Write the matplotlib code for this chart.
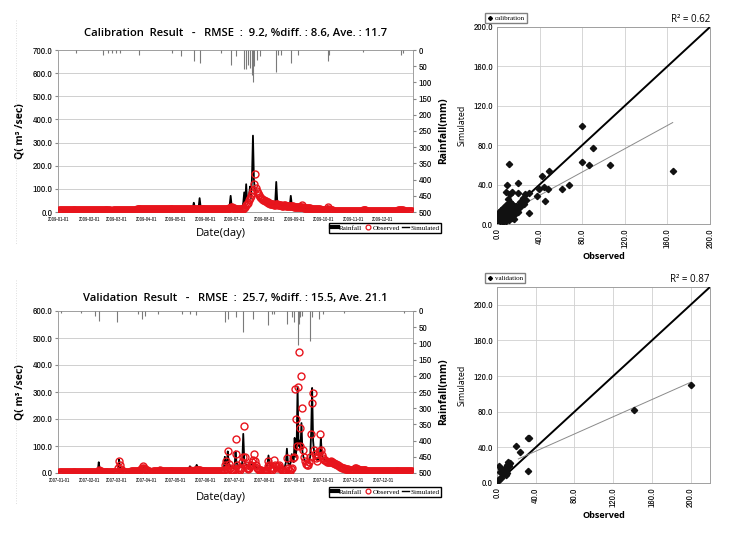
import numpy as np
import pandas as pd
import matplotlib
matplotlib.use("Agg")
import matplotlib.pyplot as plt
from matplotlib.lines import Line2D
from matplotlib import font_manager

# ---------------- DATA ----------------
cal_sim = (
    [10,10,10,10,10,9,9,9,9,9, 9,9,9,9,9,9,9,9,10,9, 9,9,9,8,8,8,8,8,8,8, 8]
    + [8,8,8,8,8,8,8,8,8,8, 8,8,8,8,9,9,9,9,9,9, 9,9,9,9,9,9,9,9]
    + [10,10,10,10,10,10,10,10,10,10, 10,10,10,10,10,10,10,10,10,10, 10,10,10,11,10,10,10,10,10,10, 10]
    + [10,10,10,10,10,10,11,11,11,11, 11,11,11,11,11,11,11,11,11,11, 11,11,11,11,11,12,12,13,12,12]
    + [12,12,12,12,12,12,13,12,12,12, 12,12,12,12,12,12,12,14,18,40, 22,16,14,14,20,60,24,18,16,15, 15]
    + [15,15,14,14,14,14,14,14,14,14, 14,14,14,14,14,14,15,15,15,15, 15,15,15,16,18,30,70,28,20,17]
    + [16,16,15,15,15,15,15,16,20,40, 85,35,120,45,60,75,110,60,150,330, 140,90,75,65,60,56,52,50,48,46, 44]
    + [42,40,38,36,35,34,33,32,32,31, 30,45,130,50,38,34,32,30,30,29, 28,28,27,26,26,25,28,70,32,26, 24]
    + [23,22,24,30,22,20,19,18,18,17, 17,16,16,16,15,15,15,14,14,14, 13,13,13,13,12,12,12,12,11,11]
    + [11,11,11,12,25,14,11,10,10,10, 9,9,9,9,9,8,8,8,8,8, 8,8,8,8,8,8,8,8,8,8, 8]
    + [8,8,8,8,8,8,8,8,8,9, 9,8,8,8,8,8,8,8,8,8, 8,8,8,8,8,8,8,8,8,8]
    + [8,8,8,8,8,8,8,8,8,8, 8,8,8,8,8,8,9,12,10,9, 9,9,8,8,8,8,8,8,8,8, 8]
)
cal_obs = (
    [8,8,8,7,7,7,7,7,7,7, 7,7,7,7,7,7,7,7,8,8, 7,7,7,7,7,7,7,7,7,7, 7]
    + [7,7,7,7,7,7,7,7,7,7, 7,7,7,7,7,8,8,8,8,8, 8,8,8,5,4,9,9,9]
    + [10,10,10,10,10,10,10,10,10,10, 10,10,10,10,10,10,10,10,10,10, 10,11,11,11,11,11,11,11,11,11, 11]
    + [11,11,11,11,11,11,11,11,11,11, 11,11,11,11,11,11,11,11,11,11, 11,11,11,11,11,12,12,12,12,12]
    + [12,12,12,12,12,12,12,12,12,12, 12,12,12,12,12,12,12,12,13,14, 14,13,13,13,14,15,15,14,14,14, 14]
    + [14,14,14,14,14,14,14,14,14,14, 14,14,14,14,14,14,14,14,14,14, 15,15,15,15,16,18,22,20,17,16]
    + [15,15,14,14,14,13,13,12,12,14, 18,22,30,35,40,50,60,70,80,95, 120,165,105,90,80,72,66,60,56,52, 50]
    + [48,46,44,42,40,38,36,35,34,33, 32,32,34,34,32,30,30,29,28,28, 30,30,28,27,26,26,25,28,26,24, 23]
    + [22,22,21,21,20,20,20,22,30,20, 19,18,18,17,17,16,16,15,15,14, 14,13,13,12,12,11,11,10,10,10]
    + [9,9,9,12,20,12,9,8,7,7, 6,6,6,6,6,5,5,5,5,5, 5,5,5,5,5,5,5,5,5,5, 5]
    + [5,5,5,5,5,5,6,6,6,7, 7,7,7,6,6,6,6,6,6,6, 6,6,6,6,6,6,6,6,6,6]
    + [6,6,6,6,6,6,6,6,6,6, 6,6,6,6,6,6,7,9,8,7, 7,7,6,6,6,6,6,6,6,6, 6]
)
cal_rain_dates = ["2009-01-19","2009-02-15","2009-02-21","2009-02-25","2009-03-01","2009-03-05",
                  "2009-03-24","2009-04-28","2009-05-07","2009-05-20","2009-05-26","2009-06-17",
                  "2009-06-27","2009-07-03","2009-07-11","2009-07-13","2009-07-15","2009-07-17",
                  "2009-07-19","2009-07-20","2009-07-21","2009-07-24","2009-07-27","2009-08-13",
                  "2009-08-15","2009-08-18","2009-08-28","2009-09-04","2009-10-05","2009-10-06",
                  "2009-11-10","2009-12-20","2009-12-22"]
cal_rain_mm = [10,15,10,8,10,8, 15,10,20,33,39,10, 46,20,60,60,45,55, 77,100,50,30,20,67,
               15,15,41,15,34,15, 5,15,8]

val_sim = (
    [5]*31
    + [5,5,5,5,5,5,5,5,5,6, 40,15,8,7,6,6,6,6,6,6, 6,6,6,6,6,6,6,6]
    + [6,6,8,50,18,10,8,8,7,7, 7,7,7,7,7,7,8,8,8,8, 8,8,8,8,8,10,12,15,20,25, 22]
    + [18,15,14,13,12,12,12,11,11,11, 11,12,12,14,20,14,12,12,11,11, 11,11,10,10,10,10,10,10,10,10]
    + [10,10,10,10,10,10,10,10,12,12, 12,13,14,15,16,25,18,17,16,16, 18,22,30,22,20,18,18,17,17,16, 16]
    + [16,16,15,15,15,15,15,15,15,15, 15,15,15,15,15,14,14,14,14,14, 60,30,25,80,35,28,24,22,20,18]
    + [17,80,40,30,28,25,24,22,40,145, 50,35,30,28,26,25,24,30,40,30, 26,24,22,20,20,20,20,20,19,19, 18]
    + [18,20,25,35,65,35,28,24,22,20, 20,20,20,18,18,18,18,18,20,20, 20,25,40,90,40,30,30,40,70,50, 40]
    + [130,60,90,320,100,120,90,185,80,60, 50,45,40,40,38,42,60,150,315,120, 80,60,55,50,55,50,60,130,70,55]
    + [50,48,46,45,44,44,45,46,44,42, 40,38,36,34,32,30,28,26,24,22, 20,19,18,17,16,15,14,14,13,13, 12]
    + [12,12,11,11,11,14,18,16,14,13, 13,12,12,12,11,11,11,11,10,10, 10,10,10,10,10,10,9,9,9,9]
    + [9,9,9,9,9,9,9,8,8,8, 8,8,8,8,8,8,8,8,8,8, 8,8,8,8,8,8,8,8,8,8, 8]
)
val_obs = (
    [4]*31
    + [4,4,4,4,4,4,4,4,4,4, 12,8,6,5,5,5,5,5,5,5, 5,5,5,5,5,5,5,5]
    + [5,5,20,45,30,15,8,6,5,5, 5,5,5,5,5,6,6,6,6,6, 6,6,6,7,8,10,15,20,25,20, 15]
    + [12,10,8,6,4,2,5,6,7,8, 8,8,8,8,10,8,8,7,7,7, 7,7,7,7,7,7,7,7,7,7]
    + [7,7,7,7,7,7,7,7,7,8, 8,8,8,8,9,10,9,9,9,9, 10,10,12,10,10,10,9,9,9,9, 9]
    + [9,9,9,9,9,9,9,9,9,9, 9,9,9,9,9,8,8,8,8,10, 30,45,15,80,35,20,12,10,10,12]
    + [15,125,70,30,20,15,12,20,40,60, 175,60,30,20,15,20,25,30,40,50, 70,45,30,20,15,12,10,10,8,8, 6]
    + [6,8,10,25,45,30,20,15,12,20, 50,30,25,20,25,30,20,15,10,8, 5,5,10,55,20,10,8,15,20,55, 60]
    + [310,200,100,320,450,100,165,360,240,85, 60,45,35,30,28,40,60,145,260,295, 85,70,55,45,60,80,145,85,65,55]
    + [50,48,45,42,40,40,42,44,42,40, 38,36,34,32,30,28,26,24,22,20, 18,17,16,15,14,13,12,12,11,11, 10]
    + [10,20,18,15,13,12,12,11,11,10, 10,10,10,9,9,9,9,9,9,8, 8,8,8,8,8,8,8,8,8,8]
    + [7]*31
)
val_rain_dates = ["2007-01-03","2007-01-24","2007-02-07","2007-02-11","2007-03-02","2007-03-23",
                  "2007-03-28","2007-03-31","2007-04-13","2007-05-08","2007-05-16","2007-05-22",
                  "2007-06-21","2007-06-24","2007-07-02","2007-07-10","2007-07-20","2007-08-05",
                  "2007-08-09","2007-08-11","2007-08-24","2007-08-29","2007-08-31","2007-09-04",
                  "2007-09-05","2007-09-06","2007-09-09","2007-09-17","2007-09-19","2007-09-26",
                  "2007-09-30","2007-10-22","2007-12-23"]
val_rain_mm = [5,5,15,30,35,10, 25,15,10,8,10,12, 35,25,20,65,25,43, 10,10,40,20,35,105,
               40,20,15,93,20,25, 8,5,5]

cal_sc_obs = [80,90,80,86,106,165,49,42,68,61,48,44,39,38,45,30,11,20,9,8,12,14,20,26,30,24,27,22,25,18,20,
              1,2,3,4,4,5,5,6,6,7,7,7,8,8,8,8,8,9,9,9,9,10,10,10,10,11,11,11,11,12,12,12,12,13,13,13,
              14,14,14,15,15,16,16,16,17,18,19,3,6,2,14,16,20,22,10,12]
cal_sc_sim = [99,77,63,60,60,54,54,49,40,36,36,38,36,28,23,11,61,42,40,32,30,32,31,30,31,26,24,22,20,18,17,
              8,12,6,10,14,4,8,12,16,5,9,13,3,7,11,15,19,5,9,13,17,6,10,14,20,4,8,12,16,6,10,14,18,8,12,16,
              10,14,20,12,16,9,14,18,12,15,13,3,2,5,6,5,12,17,25,22]
cal_fit_x = [28, 165]
cal_fit_y = [22, 103]
cal_r2 = 0.62

val_sc_obs = [200,141,32,33,20,24,32,11,12,10,13,8,6,2,3,5,4,7,9,6,4,2,1,0,10,12,9]
val_sc_sim = [110,82,51,50,41,35,13,24,21,20,22,17,15,19,12,13,16,13,9,10,6,4,2,2,11,19,15]
val_fit_x = [22, 200]
val_fit_y = [27, 113]
val_r2 = 0.87

# ---------------- STYLE ----------------
names = {f.name for f in font_manager.fontManager.ttflist}


def pick(*cands):
    for c in cands:
        if c in names:
            return c
    return "DejaVu Sans"


NARROW = pick("Liberation Sans Narrow", "Arial Narrow", "Archivo Narrow", "Asap Condensed")
SERIF = pick("Liberation Serif", "DejaVu Serif")
TITLEF = pick("Open Sans", "DejaVu Sans")

W, H = 731, 534
fig = plt.figure(figsize=(W / 100, H / 100), dpi=100)

# faint dotted frame edge of the original embedded picture
for y0, y1 in ((20, 245), (280, 505)):
    fig.add_artist(Line2D([16 / W, 16 / W], [1 - y0 / H, 1 - y1 / H], color="#d4d4d4",
                          lw=0.6, ls=(0, (1, 2))))


def rect(l, t, r, b):
    return [l / W, 1 - b / H, (r - l) / W, (b - t) / H]


def ts_panel(box, year, sim, obs, rdates, rmm, ymax, title, title_gap, xl_y, leg_top):
    ax = fig.add_axes(rect(*box))
    dates = pd.date_range(f"{year}-01-01", periods=len(sim), freq="D")
    ax.plot(dates, sim, color="black", lw=1.3, zorder=3)
    ax.plot(dates, obs, "o", mfc="none", mec="#e8141c", ms=5.0, mew=1.0, zorder=4)
    ax.set_ylim(0, ymax)
    ax.set_xlim(pd.Timestamp(f"{year}-01-01") - pd.Timedelta(days=1),
                pd.Timestamp(f"{year}-12-31") + pd.Timedelta(days=1))
    ax.set_yticks(np.arange(0, ymax + 1, 100))
    ax.yaxis.set_major_formatter(matplotlib.ticker.FormatStrFormatter("%.1f"))
    ax.grid(axis="y", color="#c8c8c8", lw=0.6)
    ax.set_axisbelow(True)
    months = pd.date_range(f"{year}-01-01", periods=12, freq="MS")
    ax.set_xticks(months)
    ax.set_xticklabels([m.strftime("%Y-%m-%d") for m in months], fontsize=3.6,
                       fontfamily=NARROW)
    ax.tick_params(axis="x", length=0, pad=3.5)
    ax.tick_params(axis="y", length=2, labelsize=7, pad=2, color="#888888")
    for lab in ax.get_yticklabels():
        lab.set_fontfamily(NARROW)
        lab.set_fontweight("bold")
    for s in ax.spines.values():
        s.set_color("#a0a0a0")
        s.set_linewidth(0.7)
    ax.set_ylabel("Q( m³ /sec)", fontsize=7.5, fontweight="bold", fontfamily=TITLEF)
    ax.yaxis.set_label_coords(-0.092, 0.5)
    ax.set_xlabel("Date(day)", fontsize=8, fontfamily=TITLEF)
    ax.xaxis.set_label_coords(0.46, xl_y)
    ax.text(0.5, 1 + title_gap, title, transform=ax.transAxes, ha="center", va="center",
            fontsize=8.1, fontweight="semibold", fontfamily=TITLEF)

    ax2 = ax.twinx()
    ax2.vlines(pd.to_datetime(rdates), 0, rmm, color="#7a7a7a", lw=0.8)
    ax2.set_ylim(500, 0)
    ax2.set_yticks(np.arange(0, 501, 50))
    ax2.tick_params(axis="y", length=2, labelsize=7, pad=2, color="#888888")
    for lab in ax2.get_yticklabels():
        lab.set_fontfamily(NARROW)
        lab.set_fontweight("bold")
    for s in ax2.spines.values():
        s.set_visible(False)
    ax2.set_ylabel("Rainfall(mm)", fontsize=7.5, fontweight="bold", fontfamily=TITLEF)
    ax2.yaxis.set_label_coords((438 - box[0]) / (box[2] - box[0]), 0.5)

    handles = [Line2D([], [], color="black", lw=3),
               Line2D([], [], ls="none", marker="o", mfc="none", mec="#e8141c", ms=3.5, mew=0.9),
               Line2D([], [], color="black", lw=1.0)]
    fig.legend(handles, ["Rainfall", "Observed", "Simulated"], loc="upper left",
               bbox_to_anchor=(329 / W, 1 - leg_top / H), ncol=3, frameon=True,
               fancybox=False, edgecolor="black", framealpha=1,
               prop={"family": SERIF, "size": 5.1}, handlelength=1.0, handletextpad=0.15,
               columnspacing=0.3, borderpad=0.25, borderaxespad=0)


def sc_panel(box, xs, ys, lim, fitx, fity, label, r2):
    ax = fig.add_axes(rect(*box))
    ax.plot([0, lim], [0, lim], color="black", lw=1.4, zorder=3)
    ax.plot(fitx, fity, color="#8a8a8a", lw=0.7, zorder=3)
    ax.plot(xs, ys, "D", color="#111111", ms=3.2, ls="none", zorder=4)
    ax.set_xlim(0, lim)
    ax.set_ylim(0, lim)
    ticks = np.arange(0, 201, 40)
    ax.set_xticks(ticks)
    ax.set_yticks(ticks)
    ax.xaxis.set_major_formatter(matplotlib.ticker.FormatStrFormatter("%.1f"))
    ax.yaxis.set_major_formatter(matplotlib.ticker.FormatStrFormatter("%.1f"))
    ax.grid(color="#d0d0d0", lw=0.6)
    ax.set_axisbelow(True)
    ax.tick_params(length=0, labelsize=6.8, pad=3)
    for lab in ax.get_xticklabels():
        lab.set_rotation(90)
        lab.set_fontfamily(NARROW)
        lab.set_fontweight("bold")
    for lab in ax.get_yticklabels():
        lab.set_fontfamily(NARROW)
        lab.set_fontweight("bold")
    for s in ax.spines.values():
        s.set_color("#a0a0a0")
        s.set_linewidth(0.7)
    ax.set_ylabel("Simulated", fontsize=6.3, fontfamily=TITLEF)
    ax.yaxis.set_label_coords(-0.145, 0.5)
    ax.set_xlabel("Observed", fontsize=6.5, fontweight="bold", fontfamily=TITLEF)
    ax.xaxis.set_label_coords(0.5, -0.142)
    ax.text(1.0, 1.012, f"R² = {r2:.2f}", transform=ax.transAxes, ha="right", va="bottom",
            fontsize=7, fontfamily=TITLEF)
    h = Line2D([], [], ls="none", marker="D", color="black", ms=2)
    ax.legend([h], [label], loc="lower left", bbox_to_anchor=(-0.056, 1.02),
              frameon=True, fancybox=False, edgecolor="#808080", framealpha=1,
              prop={"family": SERIF, "size": 5}, handlelength=0.8, handletextpad=0.3,
              borderpad=0.3, borderaxespad=0)


ts_panel((58, 50, 413, 212), 2009, cal_sim, cal_obs, cal_rain_dates, cal_rain_mm, 700,
         "Calibration  Result   -   RMSE  :  9.2, %diff. : 8.6, Ave. : 11.7",
         0.10, -0.10, 223)
ts_panel((58, 311, 413, 473), 2007, val_sim, val_obs, val_rain_dates, val_rain_mm, 600,
         "Validation  Result   -   RMSE  :  25.7, %diff. : 15.5, Ave. 21.1",
         0.08, -0.115, 487)
sc_panel((497, 27, 710, 224), cal_sc_obs, cal_sc_sim, 200, cal_fit_x, cal_fit_y,
         "calibration", cal_r2)
sc_panel((497, 287, 710, 483), val_sc_obs, val_sc_sim, 220, val_fit_x, val_fit_y,
         "validation", val_r2)

fig.savefig("out.png", dpi=100)
